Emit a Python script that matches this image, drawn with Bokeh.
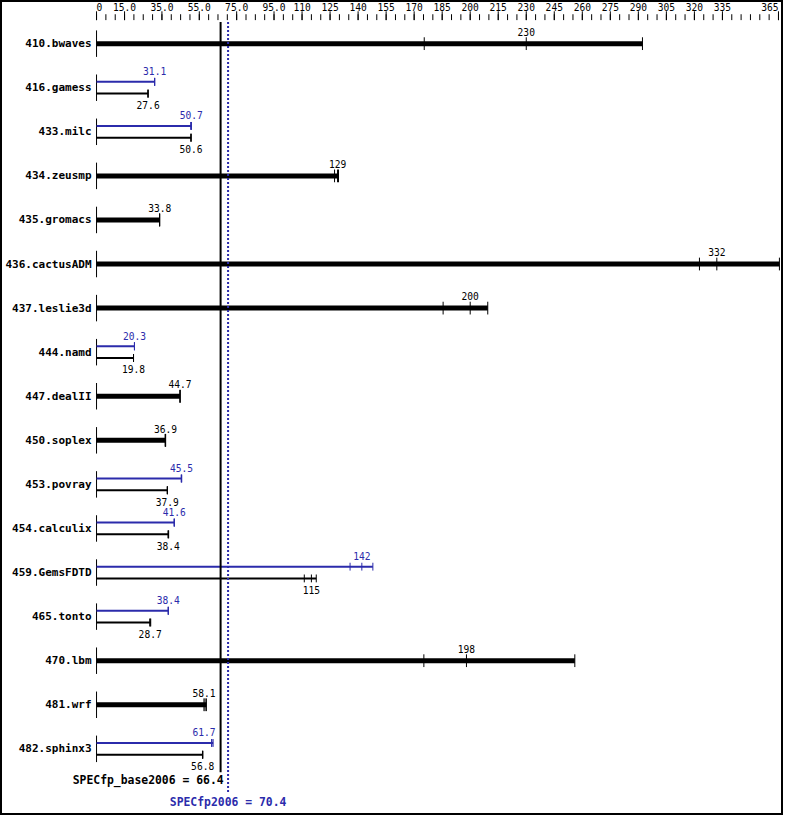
from bokeh.plotting import figure
from bokeh.models import ColumnDataSource, Range1d
from bokeh.core.properties import value
from bokeh.embed import file_html
from bokeh.resources import INLINE

# ---------------- data ----------------
benchmarks = ["410.bwaves", "416.gamess", "433.milc", "434.zeusmp", "435.gromacs",
              "436.cactusADM", "437.leslie3d", "444.namd", "447.dealII", "450.soplex",
              "453.povray", "454.calculix", "459.GemsFDTD", "465.tonto", "470.lbm",
              "481.wrf", "482.sphinx3"]
base_ratio = [230, 27.6, 50.6, 129, 33.8, 332, 200, 19.8, 44.7, 36.9,
              37.9, 38.4, 115, 28.7, 198, 58.1, 56.8]
peak_ratio = [None, 31.1, 50.7, None, None, None, None, 20.3, None, None,
              45.5, 41.6, 142, 38.4, None, None, 61.7]
base_runs = [
    [175.4, 230, 292.2],
    [27.5, 27.6, 27.6],
    [50.5, 50.6, 50.6],
    [127.4, 129, 129.5],
    [33.7, 33.8, 33.8],
    [322.7, 332, 365.5],
    [185.5, 200, 209.4],
    [19.8, 19.8, 19.8],
    [44.7, 44.7, 44.7],
    [36.7, 36.9, 37.0],
    [37.9, 37.9, 37.9],
    [38.3, 38.4, 38.6],
    [111.2, 115, 117.6],
    [28.5, 28.7, 29.0],
    [175.2, 198, 256.0],
    [57.5, 58.1, 58.8],
    [56.7, 56.8, 56.9],
]
peak_runs = [
    None,
    [31.1, 31.1, 31.1],
    [50.4, 50.7, 50.8],
    None, None, None, None,
    [20.3, 20.3, 20.3],
    None, None,
    [45.3, 45.5, 45.6],
    [41.6, 41.6, 41.6],
    [135.7, 142, 147.9],
    [38.4, 38.4, 38.4],
    None, None,
    [61.6, 61.7, 62.4],
]
spec_base = 66.4
spec_peak = 70.4
tick_values = [0, 15, 35, 55, 75, 95, 110, 125, 140, 155, 170, 185, 200, 215,
               230, 245, 260, 275, 290, 305, 320, 335, 365]
tick_labels = ["0", "15.0", "35.0", "55.0", "75.0", "95.0", "110", "125", "140",
               "155", "170", "185", "200", "215", "230", "245", "260", "275",
               "290", "305", "320", "335", "365"]
minor_values = list(range(0, 366, 5))

# ---------------- layout helpers ----------------
BLUE = "#2b2bab"
FONT = value("DejaVu Sans Mono")
W, H = 783, 815
ROW = 44.94                      # reference px per row
PXU = 1.9065 * W / 799           # screen px per ratio unit
def ry(i, dpx):
    return i + dpx / ROW

p = figure(width=W, height=H, output_backend="svg", toolbar_location=None,
           x_axis_location=None, y_axis_location=None,
           x_range=Range1d(-98 / 1.9065, (799 - 98) / 1.9065),
           y_range=Range1d((831 - 44) / ROW, -44 / ROW),
           min_border=0, background_fill_color="white", border_fill_color="white")
p.grid.visible = False
p.outline_line_color = "black"
p.outline_line_width = 3

seg = {k: dict(x0=[], y0=[], x1=[], y1=[]) for k in
       ["axis", "thick", "thin_b", "thin_p", "tick_b", "tick_p"]}
def add(k, x0, y0, x1, y1):
    d = seg[k]
    d["x0"].append(x0); d["y0"].append(y0); d["x1"].append(x1); d["y1"].append(y1)

def dx_for(v, t):
    # move a label left if it would run into the base score line
    half = len(t) * 5.8 / 2
    right = v * PXU + half
    left = v * PXU - half
    line = spec_base * PXU
    if left < line and right > line - 5:
        return (line - 5) - right
    return 0

lab_b = dict(x=[], y=[], t=[], dx=[])
lab_p = dict(x=[], y=[], t=[], dx=[])
def add_lab(d, v, y):
    t = f"{v:g}"
    d["x"].append(v); d["y"].append(y); d["t"].append(t); d["dx"].append(dx_for(v, t))

for i, name in enumerate(benchmarks):
    add("axis", 0, ry(i, -13.5), 0, ry(i, 13.5))
    br = base_runs[i]
    if peak_runs[i] is None:
        add("thick", 0, i, max(br), i)
        for r in br:
            add("tick_b", r, ry(i, -6.5), r, ry(i, 6.5))
        add_lab(lab_b, base_ratio[i], ry(i, -12))
    else:
        pr = peak_runs[i]
        yp, yb = ry(i, -6), ry(i, 6)
        add("thin_p", 0, yp, max(pr), yp)
        for r in pr:
            add("tick_p", r, ry(i, -10), r, ry(i, -2))
        add("thin_b", 0, yb, max(br), yb)
        for r in br:
            add("tick_b", r, ry(i, 2), r, ry(i, 10))
        add_lab(lab_p, peak_ratio[i], ry(i, -17))
        add_lab(lab_b, base_ratio[i], ry(i, 17.5))

styles = {"axis": ("black", 1), "thick": ("black", 5), "thin_b": ("black", 2),
          "thin_p": (BLUE, 2), "tick_b": ("black", 1), "tick_p": (BLUE, 1)}
for k, (c, w) in styles.items():
    p.segment(x0="x0", y0="y0", x1="x1", y1="y1", source=ColumnDataSource(seg[k]),
              line_color=c, line_width=w)

# top scale
p.segment(x0=minor_values, x1=minor_values, y0=[ry(0, 14 - 44)] * len(minor_values),
          y1=[ry(0, 20 - 44)] * len(minor_values), line_color="black", line_width=1)
p.segment(x0=tick_values, x1=tick_values, y0=[ry(0, 11 - 44)] * len(tick_values),
          y1=[ry(0, 20 - 44)] * len(tick_values), line_color="black", line_width=1)
aligns = ["left"] + ["center"] * (len(tick_values) - 2) + ["right"]
p.text(x=tick_values, y=[ry(0, 6.5 - 44)] * len(tick_values), text=tick_labels,
       text_align=aligns, text_baseline="middle", text_font=FONT,
       text_font_size="9.6px", text_color="black")

# benchmark names
p.text(x=[0] * len(benchmarks), y=list(range(len(benchmarks))), text=benchmarks,
       x_offset=-5, text_align="right", text_baseline="middle", text_font=FONT,
       text_font_style="bold", text_font_size="11px", text_color="black")

# value labels
p.text(x="x", y="y", text="t", x_offset="dx", source=ColumnDataSource(lab_b),
       text_align="center", text_baseline="middle", text_font=FONT,
       text_font_size="9.6px", text_color="black")
p.text(x="x", y="y", text="t", x_offset="dx", source=ColumnDataSource(lab_p),
       text_align="center", text_baseline="middle", text_font=FONT,
       text_font_size="9.6px", text_color=BLUE)

# overall score lines
p.segment(x0=[spec_base], x1=[spec_base], y0=[ry(0, 22 - 44)], y1=[ry(0, 787 - 44)],
          line_color="black", line_width=2)
p.segment(x0=[spec_peak], x1=[spec_peak], y0=[ry(0, 22 - 44)], y1=[ry(0, 808 - 44)],
          line_color=BLUE, line_width=2, line_dash="2 2")
p.text(x=[spec_base], y=[ry(0, 795 - 44)], text=[f"SPECfp_base2006 = {spec_base}"],
       x_offset=3, text_align="right", text_baseline="middle", text_font=FONT,
       text_font_style="bold", text_font_size="11.4px", text_color="black")
p.text(x=[spec_peak], y=[ry(0, 817 - 44)], text=[f"SPECfp2006 = {spec_peak}"],
       text_align="center", text_baseline="middle", text_font=FONT,
       text_font_style="bold", text_font_size="11.4px", text_color=BLUE)

open("out.html", "w").write(file_html(p, INLINE))
